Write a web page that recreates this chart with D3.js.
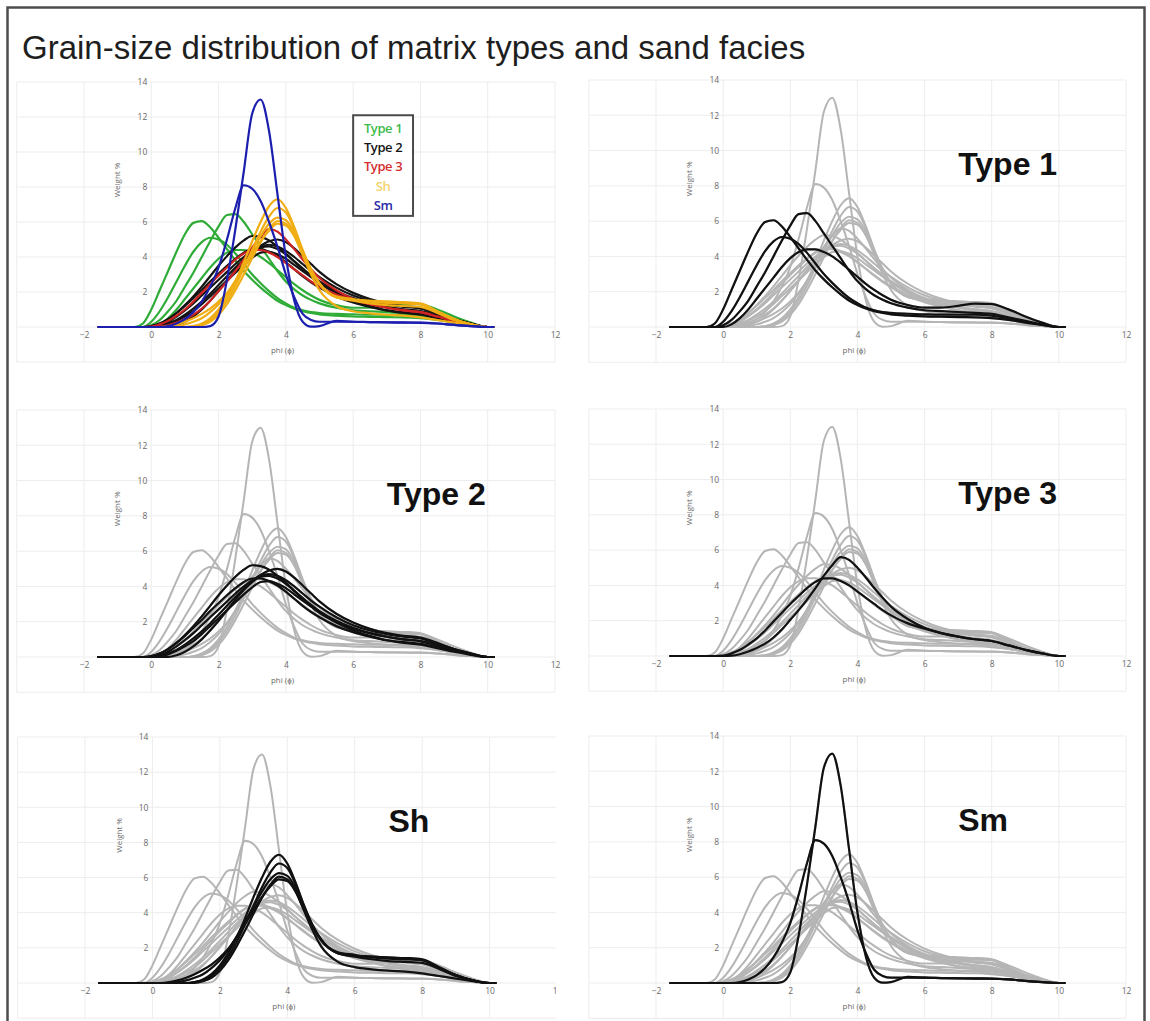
<!DOCTYPE html>
<html>
<head>
<meta charset="utf-8">
<script src="https://cdn.jsdelivr.net/npm/d3@7"></script>
<style>
  body { margin: 0; background: #fff; }
  svg { display: block; }
</style>
</head>
<body>
<svg id="chart" width="1150" height="1021"></svg>
<script>
// phi grid shared by every grain-size curve
const phi = [-1.6,-1,-0.5,-0.25,0,0.25,0.5,0.75,1,1.25,1.5,1.75,2,2.25,2.5,2.75,3,3.25,3.5,3.75,4,4.25,4.5,4.75,5,5.5,6,6.5,7,7.5,8,8.5,9,9.5,10,10.2];

// weight % per phi class, one row per sample
const type1Curves = [
  [0,0,0,0.2,1.0,2.1,3.2,4.3,5.3,5.95,6.05,5.7,5.1,4.45,3.8,3.2,2.7,2.25,1.85,1.5,1.25,1.05,0.9,0.8,0.72,0.65,0.6,0.58,0.56,0.55,0.5,0.4,0.25,0.12,0,0],
  [0,0,0,0,0.3,0.9,1.7,2.6,3.5,4.3,4.85,5.1,5.0,4.7,4.2,3.6,3.0,2.5,2.05,1.65,1.35,1.1,0.95,0.85,0.8,0.75,0.72,0.7,0.7,0.7,0.65,0.5,0.3,0.12,0,0],
  [0,0,0,0,0.1,0.4,0.9,1.5,2.3,3.1,4.0,4.9,5.75,6.4,6.45,6.0,5.3,4.6,3.9,3.2,2.6,2.15,1.8,1.55,1.35,1.1,0.95,0.9,0.85,0.8,0.75,0.55,0.35,0.15,0,0],
  [0,0,0,0,0,0.15,0.5,1.0,1.6,2.2,2.8,3.4,3.9,4.25,4.4,4.4,4.25,4.0,3.65,3.25,2.85,2.45,2.1,1.8,1.55,1.25,1.1,1.1,1.2,1.32,1.3,1.0,0.6,0.25,0,0]
];
const type2Curves = [
  [0,0,0,0,0.05,0.2,0.45,0.8,1.25,1.75,2.3,2.9,3.5,4.05,4.55,4.95,5.2,5.15,4.95,4.6,4.2,3.75,3.3,2.9,2.55,2.0,1.6,1.35,1.15,1.0,0.9,0.65,0.4,0.18,0,0],
  [0,0,0,0,0,0.05,0.2,0.4,0.7,1.05,1.45,1.9,2.4,2.9,3.4,3.85,4.3,4.65,4.9,5.0,4.85,4.5,4.05,3.6,3.15,2.45,1.95,1.6,1.35,1.2,1.1,0.8,0.45,0.2,0,0],
  [0,0,0,0,0,0.1,0.3,0.6,0.95,1.35,1.8,2.25,2.7,3.15,3.6,4.0,4.35,4.6,4.7,4.6,4.35,4.0,3.6,3.2,2.85,2.25,1.8,1.5,1.3,1.15,1.05,0.75,0.45,0.2,0,0],
  [0,0,0,0,0.05,0.2,0.45,0.8,1.2,1.65,2.1,2.6,3.05,3.5,3.9,4.25,4.45,4.45,4.3,4.05,3.7,3.3,2.9,2.55,2.25,1.75,1.4,1.15,0.95,0.85,0.75,0.55,0.35,0.15,0,0],
  [0,0,0,0,0,0.05,0.15,0.35,0.6,0.9,1.3,1.75,2.2,2.65,3.1,3.55,3.95,4.25,4.3,4.15,3.9,3.55,3.2,2.85,2.5,1.95,1.5,1.2,0.95,0.8,0.7,0.5,0.3,0.12,0,0],
  [0,0,0,0,0,0,0,0.1,0.3,0.6,1.0,1.5,2.05,2.65,3.25,3.8,4.25,4.55,4.6,4.45,4.15,3.75,3.35,2.95,2.6,2.05,1.65,1.35,1.15,1.0,0.9,0.65,0.4,0.15,0,0]
];
const type3Curves = [
  [0,0,0,0,0,0.02,0.1,0.25,0.45,0.7,1.05,1.5,2.05,2.6,3.2,3.85,4.55,5.15,5.6,5.45,5.0,4.45,3.85,3.3,2.8,2.1,1.6,1.3,1.1,0.95,0.85,0.6,0.35,0.15,0,0],
  [0,0,0,0,0.02,0.15,0.35,0.65,1.0,1.45,1.95,2.45,2.95,3.4,3.85,4.2,4.4,4.4,4.25,4.0,3.65,3.3,2.95,2.6,2.3,1.85,1.55,1.3,1.1,0.95,0.85,0.6,0.35,0.15,0,0]
];
const shCurves = [
  [0,0,0,0,0,0,0,0,0,0.05,0.2,0.5,1.0,1.7,2.6,3.7,4.9,6.0,6.9,7.3,6.8,5.7,4.4,3.3,2.5,1.7,1.55,1.5,1.45,1.4,1.3,0.85,0.45,0.15,0,0],
  [0,0,0,0,0,0,0,0,0,0.05,0.15,0.4,0.85,1.5,2.35,3.35,4.4,5.45,6.3,6.8,6.55,5.6,4.35,3.25,2.45,1.7,1.55,1.5,1.45,1.42,1.35,0.9,0.45,0.15,0,0],
  [0,0,0,0,0,0,0,0.05,0.15,0.3,0.5,0.85,1.3,1.9,2.65,3.5,4.35,5.2,5.9,6.25,6.1,5.4,4.3,3.25,2.45,1.7,1.5,1.35,1.25,1.2,1.15,0.8,0.4,0.15,0,0],
  [0,0,0,0,0,0,0,0,0,0,0.1,0.3,0.7,1.3,2.1,3.0,3.95,4.85,5.6,6.05,5.9,5.2,4.1,3.0,2.1,1.2,0.9,0.78,0.7,0.65,0.55,0.4,0.25,0.1,0,0],
  [0,0,0,0,0,0,0.05,0.15,0.3,0.5,0.75,1.05,1.45,1.95,2.6,3.35,4.15,4.9,5.5,5.9,5.8,5.2,4.2,3.2,2.45,1.75,1.6,1.45,1.38,1.35,1.3,0.9,0.45,0.15,0,0]
];
const smCurves = [
  [0,0,0,0,0,0,0,0,0,0,0,0.05,0.6,2.7,5.6,8.9,12.2,13.0,11.2,7.6,4.0,1.5,0.3,0.02,0.05,0.35,0.3,0.28,0.26,0.25,0.24,0.2,0.12,0.05,0,0],
  [0,0,0,0,0,0,0.05,0.2,0.45,0.85,1.45,2.3,3.4,5.0,6.8,8.1,7.9,7.2,6.0,4.6,3.0,1.7,0.75,0.4,0.3,0.3,0.3,0.28,0.27,0.26,0.25,0.2,0.12,0.05,0,0]
];

const groupNames  = ["Type 1", "Type 2", "Type 3", "Sh", "Sm"];
const groupCurves = [type1Curves, type2Curves, type3Curves, shCurves, smCurves];
const groupColors = ["#2fac37", "#141414", "#cf2323", "#f0ae14", "#1c1fae"];
const legendColors = ["#3dbb4c", "#141414", "#d42e2e", "#f2d46a", "#2a2aa6"];

const xTicks = [-2, 0, 2, 4, 6, 8, 10, 12];
const yTicks = [2, 4, 6, 8, 10, 12, 14];
const gridX  = [-4, -2, 0, 2, 4, 6, 8, 10, 12];
const gridY  = [-2, 0, 2, 4, 6, 8, 10, 12, 14];

// six panels: overview in colour, then one panel per group highlighted in black
const panels = [
  { left: 84,  right: 555,  zero: 327, top: 82,  focus: -1 },
  { left: 656, right: 1126, zero: 327, top: 80,  focus: 0 },
  { left: 84,  right: 555,  zero: 657, top: 410, focus: 1 },
  { left: 656, right: 1126, zero: 656, top: 409, focus: 2 },
  { left: 85,  right: 557,  zero: 983, top: 737, focus: 3, clipAt: 556 },
  { left: 656, right: 1126, zero: 983, top: 736, focus: 4 }
];

const svg = d3.select("#chart");
const FONT = "'Liberation Sans', Arial, sans-serif";
const SMALL = "'Open Sans', 'Liberation Sans', sans-serif";

svg.append("rect").attr("width", 1150).attr("height", 1021).attr("fill", "#fff");

// outer frame
svg.append("rect")
  .attr("x", 7.5).attr("y", 7.5).attr("width", 1137).attr("height", 1040)
  .attr("fill", "none").attr("stroke", "#4d4d4d").attr("stroke-width", 2.5);

svg.append("text")
  .attr("x", 22).attr("y", 59)
  .attr("font-family", FONT).attr("font-size", 33).attr("fill", "#1e1e1e")
  .text("Grain-size distribution of matrix types and sand facies");

const toPoints = vals => vals.map((v, i) => [phi[i], v]);

panels.forEach((p, pi) => {
  const x = d3.scaleLinear().domain([-2, 12]).range([p.left, p.right]);
  const y = d3.scaleLinear().domain([0, 14]).range([p.zero, p.top]);
  let g = svg.append("g");

  if (p.clipAt) {
    const id = "clip" + pi;
    svg.append("clipPath").attr("id", id).append("rect")
      .attr("x", 0).attr("y", y(16)).attr("width", p.clipAt).attr("height", y(-3) - y(16));
    g.attr("clip-path", `url(#${id})`);
  }

  // light grid
  g.append("g").selectAll("line").data(gridY).join("line")
    .attr("x1", x(-4)).attr("x2", x(12))
    .attr("y1", d => y(d)).attr("y2", d => y(d))
    .attr("stroke", "#ededed").attr("stroke-width", 1);
  g.append("g").selectAll("line").data(gridX).join("line")
    .attr("y1", y(-2)).attr("y2", y(14))
    .attr("x1", d => x(d)).attr("x2", d => x(d))
    .attr("stroke", "#ededed").attr("stroke-width", 1);

  // tick labels (axes cross at zero)
  const xAxis = g.append("g")
    .attr("transform", `translate(0,${y(0)})`)
    .call(d3.axisBottom(x).tickValues(xTicks).tickSize(0).tickPadding(5).tickFormat(d3.format("d")));
  const yAxis = g.append("g")
    .attr("transform", `translate(${x(0) - 1},0)`)
    .call(d3.axisLeft(y).tickValues(yTicks).tickSize(0).tickPadding(3).tickFormat(d3.format("d")));
  [xAxis, yAxis].forEach(a => {
    a.select(".domain").remove();
    a.selectAll("text").attr("font-family", SMALL).attr("font-size", 8.5).attr("fill", "#6a6a6a");
  });

  g.append("text")
    .attr("x", x(3.9)).attr("y", y(-1.3)).attr("dy", "0.35em")
    .attr("text-anchor", "middle")
    .attr("font-family", SMALL).attr("font-size", 8).attr("fill", "#6a6a6a")
    .text("phi (ϕ)");
  g.append("text")
    .attr("transform", `translate(${x(-1.0)},${y(8.4)}) rotate(-90)`)
    .attr("dy", "0.35em").attr("text-anchor", "middle")
    .attr("font-family", SMALL).attr("font-size", 8).attr("fill", "#6a6a6a")
    .text("Weight %");

  const line = d3.line()
    .x(d => x(d[0])).y(d => y(d[1]))
    .curve(d3.curveMonotoneX);

  if (p.focus < 0) {
    groupCurves.forEach((curves, gi) => {
      g.append("g").selectAll("path").data(curves).join("path")
        .attr("d", v => line(toPoints(v)))
        .attr("fill", "none").attr("stroke", groupColors[gi])
        .attr("stroke-width", 2.2).attr("stroke-linejoin", "round");
    });

    // legend box
    const lg = g.append("g");
    lg.append("rect")
      .attr("x", x(6.0)).attr("y", y(12.1))
      .attr("width", x(7.78) - x(6.0)).attr("height", y(6.35) - y(12.1))
      .attr("fill", "#fff").attr("stroke", "#4a4a4a").attr("stroke-width", 2);
    lg.selectAll("text").data(groupNames).join("text")
      .attr("x", x(6.89))
      .attr("y", (d, i) => y(11.35) + i * 19.2)
      .attr("dy", "0.35em").attr("text-anchor", "middle")
      .attr("font-family", SMALL).attr("font-weight", 600).attr("font-size", 13)
      .attr("letter-spacing", -0.4)
      .attr("fill", (d, i) => legendColors[i])
      .text(d => d);
  } else {
    const all = groupCurves.flat();
    g.append("g").selectAll("path").data(all).join("path")
      .attr("d", v => line(toPoints(v)))
      .attr("fill", "none").attr("stroke", "#b5b5b5")
      .attr("stroke-width", 2).attr("stroke-linejoin", "round");
    g.append("g").selectAll("path").data(groupCurves[p.focus]).join("path")
      .attr("d", v => line(toPoints(v)))
      .attr("fill", "none").attr("stroke", "#111")
      .attr("stroke-width", 2.2).attr("stroke-linejoin", "round");

    g.append("text")
      .attr("x", x(7.0)).attr("y", y(8.6))
      .attr("font-family", FONT).attr("font-weight", "bold").attr("font-size", 32)
      .attr("fill", "#111")
      .text(groupNames[p.focus]);
  }
});
</script>
</body>
</html>
